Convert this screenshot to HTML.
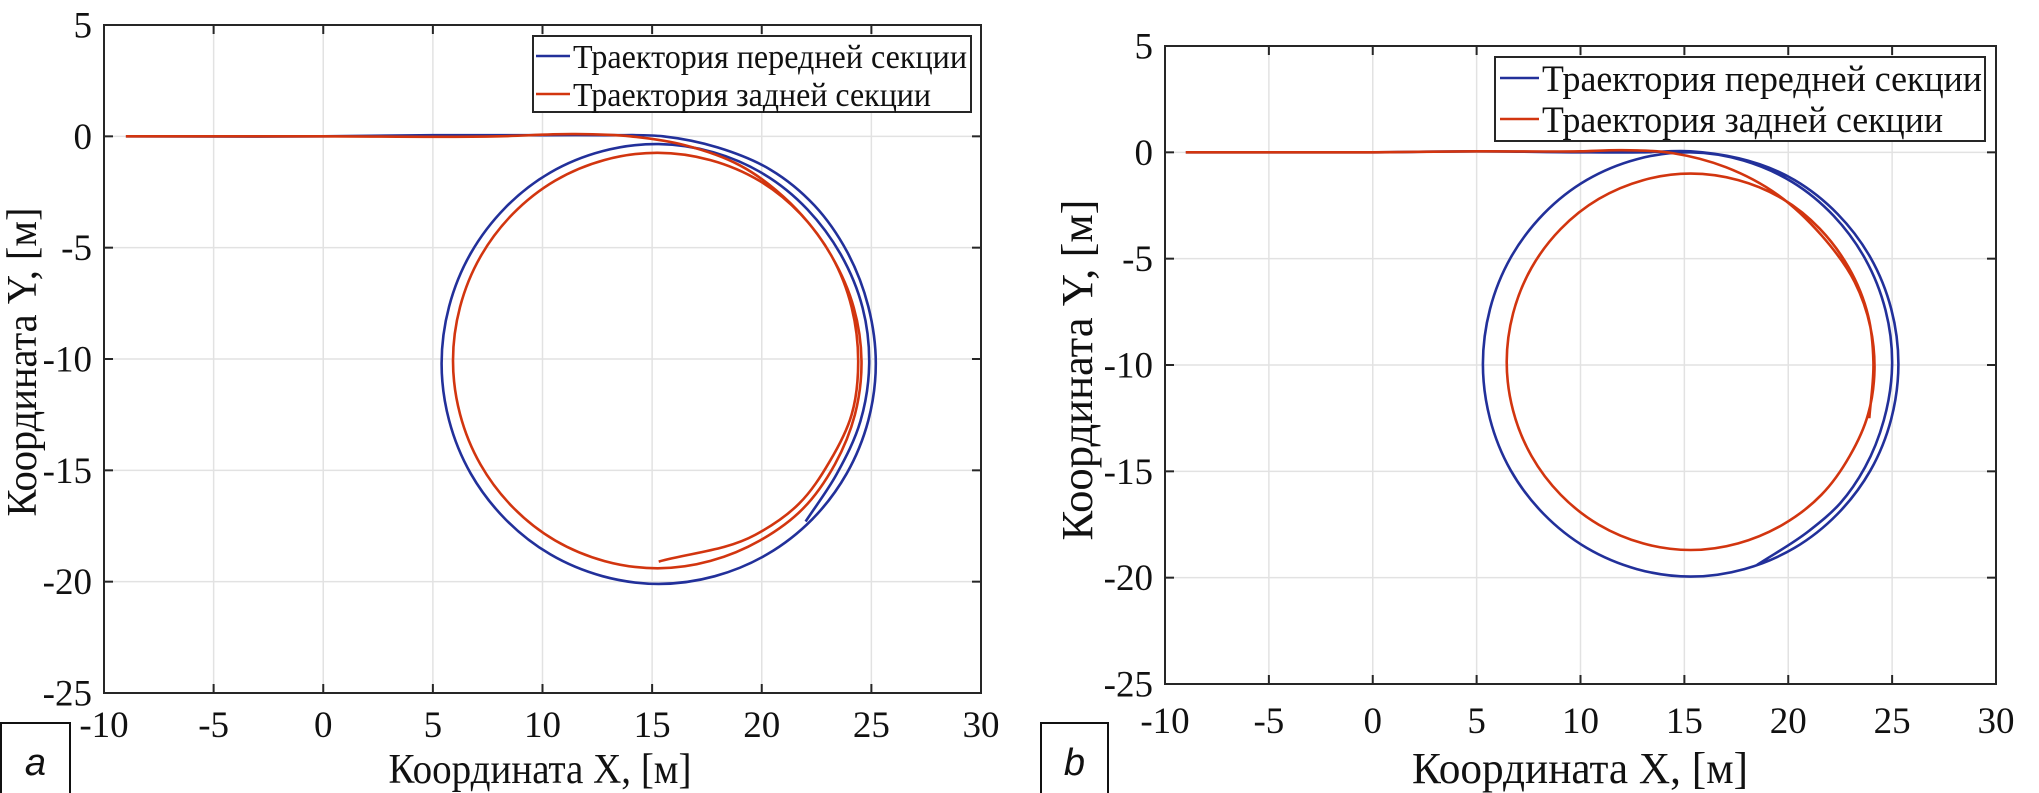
<!DOCTYPE html>
<html><head><meta charset="utf-8"><style>
html,body{margin:0;padding:0;background:#fff;}
svg{display:block;}
</style></head><body>
<svg id="chart" width="2039" height="793" viewBox="0 0 2039 793" xmlns="http://www.w3.org/2000/svg" font-family="'Liberation Serif', serif">
</svg>
<script>
const xTicks = [-10,-5,0,5,10,15,20,25,30];
const yTicks = [5,0,-5,-10,-15,-20,-25];
const seriesNames = ['Траектория передней секции','Траектория задней секции'];
// panel a
const aFrontX = [-9,0,5,10,13,15.5,18,20.4,22.4,23.9,24.86,25.2,24.86,23.87,22.3,20.25,15.3,10.35,6.73,5.4,6.73,10.35,15.3,20.1,23.6,24.6,24.9,24.5,23.4,22];
const aFrontY = [0,0,0.05,0.05,0.05,0,-0.5,-1.5,-3.1,-5.2,-7.64,-10.2,-12.76,-15.15,-17.2,-18.77,-20.1,-18.77,-15.15,-10.2,-5.25,-1.63,-0.35,-1.7,-5.3,-7.7,-10.2,-12.8,-15.2,-17.3];
const aRearX = [-9,0,8,11.5,14,16.5,19,21.3,23.2,24.2,24.55,24.25,23.33,21.9,19.92,15.25,10.58,7.17,5.92,7.17,10.58,15.25,19.9,23.2,24.4,24.1,23.1,21.7,19.7,15.3];
const aRearY = [0,0,0,0.1,0,-0.4,-1.3,-3,-5.4,-7.7,-10.1,-12.5,-14.74,-16.7,-18.15,-19.4,-18.15,-14.74,-10.07,-5.4,-1.99,-0.74,-2,-5.4,-10.1,-12.5,-14.6,-16.5,-17.9,-19.1];
// panel b
const bFrontX = [-9,0,5,10,13,15.3,20.3,23.96,25.3,23.96,20.3,15.3,10.3,6.64,5.3,6.64,10.3,15.3,20.2,23.7,25,24.6,23.7,22.5,21,18.5];
const bFrontY = [0,0,0.05,0,0,0.05,-1.3,-4.95,-9.95,-14.95,-18.6,-19.95,-18.6,-14.95,-9.95,-4.95,-1.3,0,-1.4,-5,-10,-12.6,-14.8,-16.5,-17.8,-19.4];
const bRearX = [-9,0,5,10,12,14.5,17,19.5,21.6,23.2,23.95,24.15,23.85,22.96,21.6,19.73,15.3,10.88,7.64,6.45,7.64,10.88,15.3,19.73,22.9,23.85,24.1,23.9];
const bRearY = [0,0,0.05,0.05,0.1,-0.05,-0.7,-2,-3.9,-6.1,-8.2,-10.2,-12.3,-14.28,-16.1,-17.51,-18.7,-17.51,-14.28,-9.85,-5.43,-2.19,-1,-2.19,-5.4,-7.7,-9.85,-12.5];

const NS='http://www.w3.org/2000/svg';
const svg=document.getElementById('chart');
function mk(tag,attrs,parent){const e=document.createElementNS(NS,tag);for(const k in attrs)e.setAttribute(k,attrs[k]);(parent||svg).appendChild(e);return e;}

function tangent(pts,i){
  const n=pts.length;
  if(i===0||i===n-1){
    const a=pts[i===0?0:n-2],b=pts[i===0?1:n-1];
    const dx=b[0]-a[0],dy=b[1]-a[1],l=Math.hypot(dx,dy)||1;return [dx/l,dy/l];
  }
  const p0=pts[i-1],p1=pts[i],p2=pts[i+1];
  const d0=Math.hypot(p1[0]-p0[0],p1[1]-p0[1])||1,d1=Math.hypot(p2[0]-p1[0],p2[1]-p1[1])||1;
  const w0=d1/(d0+d1),w1=d0/(d0+d1);
  const tx=(p1[0]-p0[0])/d0*w0+(p2[0]-p1[0])/d1*w1;
  const ty=(p1[1]-p0[1])/d0*w0+(p2[1]-p1[1])/d1*w1;
  const l=Math.hypot(tx,ty)||1;return [tx/l,ty/l];
}
function smoothPath(pts){
  let d='M'+pts[0][0].toFixed(1)+','+pts[0][1].toFixed(1);
  for(let i=0;i<pts.length-1;i++){
    const p1=pts[i],p2=pts[i+1];
    const L=Math.hypot(p2[0]-p1[0],p2[1]-p1[1])/3;
    const t1=tangent(pts,i),t2=tangent(pts,i+1);
    const c1=[p1[0]+t1[0]*L,p1[1]+t1[1]*L];
    const c2=[p2[0]-t2[0]*L,p2[1]-t2[1]*L];
    d+=' C'+c1[0].toFixed(1)+','+c1[1].toFixed(1)+' '+c2[0].toFixed(1)+','+c2[1].toFixed(1)+' '+p2[0].toFixed(1)+','+p2[1].toFixed(1);
  }
  return d;
}

function panel(cfg){
  const g=mk('g',{});
  
  
  const sx=v=>cfg.L+(v-(-10))/40*(cfg.R-cfg.L);
  const sy=v=>cfg.T+(5-v)/30*(cfg.B-cfg.T);
  xTicks.forEach(t=>{const l=mk('line',{x1:sx(t),x2:sx(t),y1:cfg.T,y2:cfg.B,stroke:'#e2e2e2','stroke-width':1.5},g);
    });
  yTicks.forEach(t=>{const l=mk('line',{x1:cfg.L,x2:cfg.R,y1:sy(t),y2:sy(t),stroke:'#e2e2e2','stroke-width':1.5},g);
    });
  const series=[[cfg.fx,cfg.fy,'#22309a'],[cfg.rx,cfg.ry,'#d2350f']];
  series.forEach((s,i)=>{
    const pts=s[0].map((x,j)=>[sx(x),sy(s[1][j])]);
    const p=mk('path',{d:smoothPath(pts),fill:'none',stroke:s[2],'stroke-width':2.6,'stroke-linejoin':'round'},g);
    
    
  });
  const box=mk('rect',{x:cfg.L,y:cfg.T,width:cfg.R-cfg.L,height:cfg.B-cfg.T,fill:'none',stroke:'#262626','stroke-width':2},g);
  
  xTicks.forEach(t=>{
    mk('line',{x1:sx(t),x2:sx(t),y1:cfg.B,y2:cfg.B-9,stroke:'#262626','stroke-width':2},g);
    mk('line',{x1:sx(t),x2:sx(t),y1:cfg.T,y2:cfg.T+9,stroke:'#262626','stroke-width':2},g);
    const tx=mk('text',{x:sx(t),y:cfg.xlabY,'font-size':cfg.fs,'text-anchor':'middle',fill:'#111'},g);
    tx.textContent=String(t);
    
  });
  yTicks.forEach(t=>{
    mk('line',{x1:cfg.L,x2:cfg.L+9,y1:sy(t),y2:sy(t),stroke:'#262626','stroke-width':2},g);
    mk('line',{x1:cfg.R,x2:cfg.R-9,y1:sy(t),y2:sy(t),stroke:'#262626','stroke-width':2},g);
    const ty=mk('text',{x:cfg.ylabX,y:sy(t)+cfg.fs*0.34,'font-size':cfg.fs,'text-anchor':'end',fill:'#111'},g);
    ty.textContent=String(t);
    
  });
  const xt=mk('text',{x:cfg.xtX,y:cfg.xtY,'font-size':cfg.tfs,'text-anchor':'middle',fill:'#111',textLength:cfg.xtW,lengthAdjust:'spacingAndGlyphs'},g);
  xt.textContent='Координата X, [м]';
  
  const yt=mk('text',{x:0,y:0,'font-size':cfg.tfs,'text-anchor':'middle',fill:'#111',textLength:cfg.ytW,lengthAdjust:'spacingAndGlyphs',transform:'translate('+cfg.ytX+','+cfg.ytY+') rotate(-90)'},g);
  yt.textContent='Координата Y, [м]';
  
  const lg=mk('g',{},g);
  
  mk('rect',{x:cfg.lg[0],y:cfg.lg[1],width:cfg.lg[2]-cfg.lg[0],height:cfg.lg[3]-cfg.lg[1],fill:'#fff',stroke:'#262626','stroke-width':2},lg);
  seriesNames.forEach((n,i)=>{
    const e=mk('g',{},lg);
    
    mk('line',{x1:cfg.lgLine[0],x2:cfg.lgLine[1],y1:cfg.lgY[i],y2:cfg.lgY[i],stroke:series[i][2],'stroke-width':2.6},e);
    const t=mk('text',{x:cfg.lgLine[1]+3,y:cfg.lgBase[i],'font-size':cfg.lfs,fill:'#111',textLength:cfg.lgW[i],lengthAdjust:'spacingAndGlyphs'},e);
    t.textContent=n;
  });
  const pb=mk('g',{},g);
  
  mk('rect',{x:cfg.pl[0],y:723,width:cfg.pl[1]-cfg.pl[0],height:72,fill:'#fff',stroke:'#111','stroke-width':2},pb);
  const lt=mk('text',{x:(cfg.pl[0]+cfg.pl[1])/2,y:775,'font-size':38,'font-style':'italic','text-anchor':'middle','font-family':"'Liberation Sans', sans-serif",fill:'#111'},pb);
  lt.textContent=cfg.id;
}

panel({id:'a',L:104,R:981,T:25,B:693,fx:aFrontX,fy:aFrontY,rx:aRearX,ry:aRearY,
  fs:37,xlabY:737,ylabX:92,tfs:42,xtX:540,xtY:783,xtW:303,ytX:36,ytY:362,ytW:309,
  lg:[533,36,971,112],lgLine:[536,570],lgY:[56,94],lgBase:[68,106],lgW:[394,358],lfs:34,pl:[1,70]});
panel({id:'b',L:1165,R:1996,T:46,B:684,fx:bFrontX,fy:bFrontY,rx:bRearX,ry:bRearY,
  fs:37,xlabY:733,ylabX:1153,tfs:44,xtX:1580,xtY:783,xtW:336,ytX:1092,ytY:370,ytW:341,
  lg:[1495,57,1985,141],lgLine:[1500,1539],lgY:[78,119],lgBase:[91,132],lgW:[440,401],lfs:37,pl:[1041,1108]});
</script>
</body></html>
